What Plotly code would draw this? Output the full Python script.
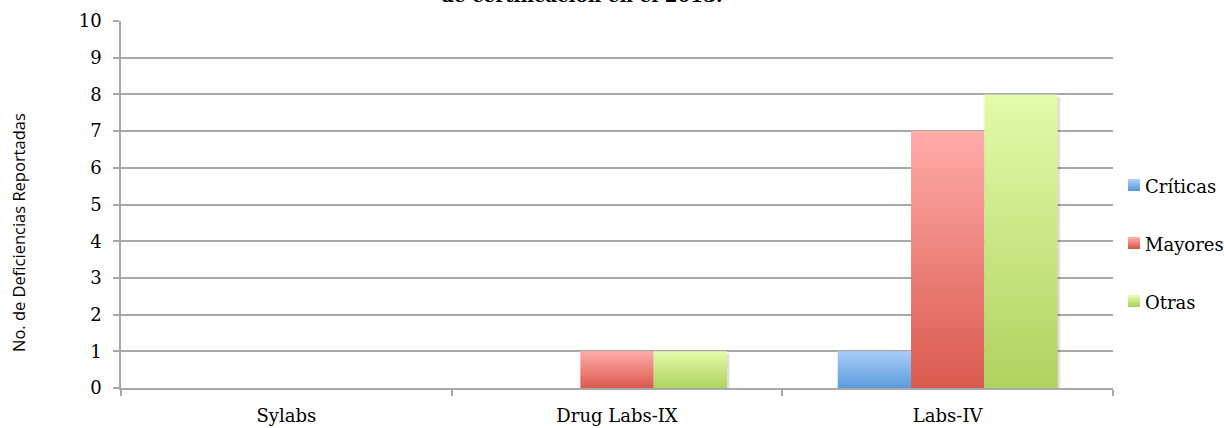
import plotly.graph_objects as go

# Deficiencias reportadas por laboratorio y tipo
categorias = ["Sylabs", "Drug Labs-IX", "Labs-IV"]
series = ["Críticas", "Mayores", "Otras"]
criticas = [0, 0, 1]
mayores = [0, 1, 7]
otras = [0, 1, 8]
valores = [criticas, mayores, otras]

# (abajo, arriba) colores del degradado de cada serie
degradados = [("#5b9bdc", "#a9cdfa"), ("#da5a4e", "#ffaba9"), ("#b0d25e", "#e3fbab")]

W, H = 1224, 428
L, R, T, B = 121, 111, 21, 40
PW, PH = W - L - R, H - T - B

GRID = "#a8a8a8"
SERIF = "DejaVu Serif"

X_RANGE = (-0.5, 2.5)
Y_RANGE = (0, 10)
DX = (X_RANGE[1] - X_RANGE[0]) / PW   # unidades de datos por píxel
DY = (Y_RANGE[1] - Y_RANGE[0]) / PH

def px_x(px):
    return (px - L) / PW

def px_y(py):
    return (H - B - py) / PH

def mezcla(a, b, t):
    a = [int(a[i:i + 2], 16) for i in (1, 3, 5)]
    b = [int(b[i:i + 2], 16) for i in (1, 3, 5)]
    return "rgb(%d,%d,%d)" % tuple(round(a[i] + (b[i] - a[i]) * t) for i in range(3))

fig = go.Figure()

grupo = 0.665          # fracción de la categoría ocupada por el grupo de barras
ancho = grupo / len(series)

barras = []
for s, vals in enumerate(valores):
    for c, v in enumerate(vals):
        if v > 0:
            x0 = c - grupo / 2 + s * ancho
            barras.append((s, x0, x0 + ancho, v))

# Sombra suave a la derecha y bajo cada barra
for capa, alfa in ((3, 0.06), (2, 0.08)):
    for s, x0, x1, v in barras:
        sx0, sx1 = x0 + capa * DX, x1 + capa * DX
        sy0, sy1 = -capa * DY, v - capa * DY
        fig.add_trace(go.Scatter(
            x=[sx0, sx0, sx1, sx1, sx0], y=[sy0, sy1, sy1, sy0, sy0],
            mode="lines", fill="toself", line=dict(width=0),
            fillcolor="rgba(0,0,0,%.2f)" % alfa,
            showlegend=False, hoverinfo="skip", cliponaxis=False,
        ))

for s, x0, x1, v in barras:
    abajo, arriba = degradados[s]
    fig.add_trace(go.Scatter(
        x=[x0, x0, x1, x1, x0], y=[0, v, v, 0, 0],
        mode="lines", fill="toself",
        line=dict(width=0, color=arriba),
        fillgradient=dict(type="vertical", colorscale=[[0, abajo], [1, arriba]]),
        name=series[s], showlegend=False, hoverinfo="skip",
    ))

# Leyenda: cuadros con degradado y texto
leyenda_y = [185, 243, 301]
for s, nombre in enumerate(series):
    abajo, arriba = degradados[s]
    cy = leyenda_y[s]
    n = 6
    for k in range(n):
        t = k / (n - 1)
        y_top = cy - 6 + k * 2
        fig.add_shape(type="rect", xref="paper", yref="paper",
                      x0=px_x(1128), x1=px_x(1140),
                      y0=px_y(y_top + 2), y1=px_y(y_top),
                      fillcolor=mezcla(arriba, abajo, t), line=dict(width=0), layer="above")
    fig.add_annotation(text=nombre, xref="paper", yref="paper",
                       x=px_x(1143), y=px_y(cy + 1), xanchor="left", yanchor="middle",
                       showarrow=False, font=dict(family=SERIF, size=18, color="#000000"))

# Título (segunda línea visible) y título del eje Y
fig.add_annotation(text="<b>de certificación en el 2013.</b>", xref="paper", yref="paper",
                   x=px_x(582), y=px_y(-5), xanchor="center", yanchor="middle",
                   showarrow=False, font=dict(family=SERIF, size=18.5, color="#000000"))
fig.add_annotation(text="No. de Deficiencias Reportadas", xref="paper", yref="paper",
                   x=px_x(18), y=px_y(233), xanchor="center", yanchor="middle",
                   textangle=-90, showarrow=False,
                   font=dict(family="Open Sans", size=16.5, color="#000000"))

fig.update_layout(
    width=W, height=H,
    margin=dict(l=L, r=R, t=T, b=B, pad=0, autoexpand=False),
    paper_bgcolor="white", plot_bgcolor="white",
    showlegend=False,
    xaxis=dict(
        range=list(X_RANGE), tickvals=[0, 1, 2], ticktext=categorias,
        ticks="", showgrid=False, zeroline=False, automargin=False,
        showline=True, linecolor=GRID, linewidth=1.5,
        tickfont=dict(family=SERIF, size=18, color="#000000"),
        ticklabelstandoff=11,
        minor=dict(tickvals=[-0.5, 0.5, 1.5, 2.5], ticks="outside", ticklen=6,
                   tickcolor=GRID, tickwidth=1.5, showgrid=False),
    ),
    yaxis=dict(
        range=list(Y_RANGE), dtick=1, tick0=0, automargin=False,
        showgrid=True, gridcolor=GRID, gridwidth=1.5, zeroline=False,
        showline=True, linecolor=GRID, linewidth=1.5,
        ticks="outside", ticklen=6, tickcolor=GRID, tickwidth=1.5,
        tickfont=dict(family=SERIF, size=18, color="#000000"),
        ticklabelstandoff=8,
    ),
)

fig.write_html("out.html")
